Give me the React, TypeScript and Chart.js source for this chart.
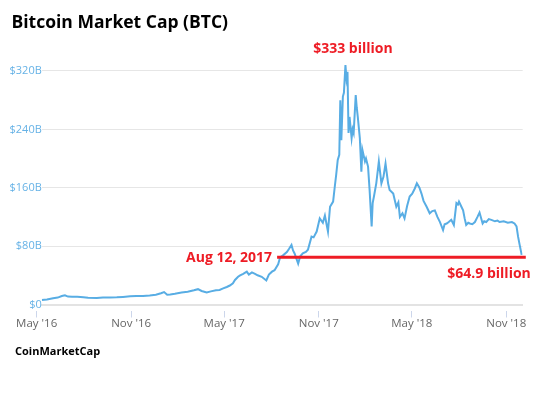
import React, { useEffect, useRef } from "react";
import { Chart, registerables } from "chart.js";

Chart.register(...registerables);

// ---- data (market cap in billions USD) ----
const capDates: string[] = [
  "2016-05-11", "2016-05-21", "2016-06-02", "2016-06-11", "2016-06-19", "2016-06-25",
  "2016-07-01", "2016-07-09", "2016-07-19", "2016-07-31", "2016-08-09", "2016-08-26",
  "2016-09-07", "2016-09-21", "2016-10-04", "2016-10-16", "2016-10-30", "2016-11-11",
  "2016-11-24", "2016-12-07", "2016-12-19", "2016-12-29", "2017-01-04", "2017-01-10",
  "2017-01-16", "2017-01-25", "2017-02-07", "2017-02-19", "2017-03-03", "2017-03-11",
  "2017-03-18", "2017-03-28", "2017-04-05", "2017-04-15", "2017-04-22", "2017-04-29",
  "2017-05-06", "2017-05-12", "2017-05-18", "2017-05-22", "2017-05-28", "2017-06-01",
  "2017-06-07", "2017-06-14", "2017-06-18", "2017-06-24", "2017-06-30", "2017-07-05",
  "2017-07-13", "2017-07-22", "2017-07-27", "2017-08-02", "2017-08-07", "2017-08-14",
  "2017-08-18", "2017-08-23", "2017-08-31", "2017-09-04", "2017-09-09", "2017-09-12",
  "2017-09-15", "2017-09-22", "2017-09-26", "2017-10-01", "2017-10-07", "2017-10-11",
  "2017-10-18", "2017-10-22", "2017-10-28", "2017-11-03", "2017-11-09", "2017-11-13",
  "2017-11-19", "2017-11-23", "2017-11-29", "2017-12-02", "2017-12-05", "2017-12-08",
  "2017-12-11", "2017-12-13", "2017-12-15", "2017-12-18", "2017-12-20", "2017-12-23",
  "2017-12-25", "2017-12-27", "2017-12-29", "2017-12-31", "2018-01-04", "2018-01-06",
  "2018-01-08", "2018-01-12", "2018-01-14", "2018-01-16", "2018-01-20", "2018-01-23",
  "2018-01-25", "2018-01-30", "2018-02-01", "2018-02-05", "2018-02-08", "2018-02-12",
  "2018-02-14", "2018-02-17", "2018-02-21", "2018-02-26", "2018-03-03", "2018-03-07",
  "2018-03-11", "2018-03-16", "2018-03-19", "2018-03-26", "2018-04-01", "2018-04-05",
  "2018-04-08", "2018-04-13", "2018-04-17", "2018-04-22", "2018-04-27", "2018-05-02",
  "2018-05-07", "2018-05-11", "2018-05-16", "2018-05-20", "2018-05-24", "2018-05-30",
  "2018-06-05", "2018-06-10", "2018-06-15", "2018-06-20", "2018-06-25", "2018-07-01",
  "2018-07-04", "2018-07-08", "2018-07-12", "2018-07-17", "2018-07-22", "2018-07-27",
  "2018-07-30", "2018-08-01", "2018-08-05", "2018-08-09", "2018-08-12", "2018-08-15",
  "2018-08-19", "2018-08-22", "2018-08-27", "2018-09-01", "2018-09-06", "2018-09-10",
  "2018-09-16", "2018-09-19", "2018-09-23", "2018-09-28", "2018-10-03", "2018-10-10",
  "2018-10-15", "2018-10-19", "2018-10-27", "2018-11-04", "2018-11-12", "2018-11-17",
  "2018-11-21", "2018-11-24", "2018-11-27", "2018-12-01",
];

const capValues: number[] = [
  6.2, 7.0, 8.5, 9.5, 11.6, 12.6,
  10.8, 10.5, 10.6, 10.0, 9.2, 9.0,
  9.6, 9.7, 9.8, 10.4, 11.3, 11.8,
  11.7, 12.3, 13.3, 15.5, 17.0, 13.5,
  13.8, 14.8, 16.5, 17.5, 19.5, 21.0,
  18.5, 16.5, 18.0, 19.5, 20.0, 22.0,
  24.0, 26.0, 29.0, 33.6, 38.0, 40.0,
  42.0, 45.0, 41.0, 44.0, 42.0, 40.0,
  38.0, 33.0, 41.0, 45.0, 47.0, 55.0,
  65.0, 67.0, 72.0, 76.0, 81.5, 74.0,
  70.0, 56.0, 66.0, 70.0, 72.0, 75.0,
  93.0, 92.0, 100, 118, 112, 122,
  100, 134, 141, 160, 178, 198,
  205, 280, 225, 285, 290, 328,
  310, 319, 235, 257, 228, 240,
  235, 287, 270, 257, 228, 182,
  212, 196, 200, 189, 157, 107,
  139, 150, 166, 196, 166, 175,
  193, 166, 157, 152, 134, 140,
  120, 125, 118, 135, 148, 152,
  159, 166, 160, 152, 142, 134,
  125, 128, 129, 120, 113, 102,
  110, 111, 113, 116, 109, 139,
  137, 141, 135, 129, 118, 109,
  112, 111, 110, 113, 120, 126,
  111, 114, 113, 117, 116, 114,
  115, 113, 114, 112, 113, 111,
  107, 93, 82, 68,
];

const xTickDates: string[] = ["2016-05-01", "2016-11-01", "2017-05-01", "2017-11-01", "2018-05-01", "2018-11-01"];
const xTickLabels: string[] = ["May '16", "Nov '16", "May '17", "Nov '17", "May '18", "Nov '18"];
const yTickValues: number[] = [0, 80, 160, 240, 320];
const yTickLabels: string[] = ["$0", "$80B", "$160B", "$240B", "$320B"];

const refStartDate = "2017-08-12";
const refEndDate = "2018-12-09";
const refValue = 64.9;

const titleText = "Bitcoin Market Cap (BTC)";
const sourceText = "CoinMarketCap";
const peakLabel = "$333 billion";
const refStartLabel = "Aug 12, 2017";
const refEndLabel = "$64.9 billion";

// ---- helpers ----
const DAY0 = Date.UTC(2016, 4, 1);
const day = (s: string) => (Date.parse(s + "T00:00:00Z") - DAY0) / 86400000;

const BLUE = "#58ade4";
const RED = "#ee1c25";
const FONT = "'Open Sans', 'DejaVu Sans', sans-serif";

const annotate = {
  id: "annotate",
  afterDatasetsDraw(chart: any) {
    const { ctx } = chart;
    const x = chart.scales.x;
    const y = chart.scales.y;
    ctx.save();
    ctx.fillStyle = RED;
    ctx.font = `bold 14px ${FONT}`;
    ctx.textBaseline = "alphabetic";

    const maxV = Math.max(...capValues);
    const pi = capValues.indexOf(maxV);
    const px = x.getPixelForValue(day(capDates[pi]));
    const py = y.getPixelForValue(maxV);
    ctx.textAlign = "center";
    ctx.fillText(peakLabel, px + 7.5, py - 12);

    const ly = y.getPixelForValue(refValue);
    ctx.textAlign = "right";
    ctx.fillText(refStartLabel, x.getPixelForValue(day(refStartDate)) - 5, ly + 5);
    ctx.fillText(refEndLabel, x.getPixelForValue(day(refEndDate)) + 5, ly + 20.5);
    ctx.restore();
  },
};

export default function App() {
  const canvasRef = useRef<HTMLCanvasElement | null>(null);

  useEffect(() => {
    if (!canvasRef.current) return;
    const capData = capDates.map((d, i) => ({ x: day(d), y: capValues[i] }));
    const refData = [
      { x: day(refStartDate), y: refValue },
      { x: day(refEndDate), y: refValue },
    ];
    const tickDays = xTickDates.map(day);

    const chart = new Chart(canvasRef.current, {
      type: "line",
      data: {
        datasets: [
          {
            data: capData,
            borderColor: BLUE,
            borderWidth: 2,
            pointRadius: 0,
            tension: 0,
            fill: false,
            order: 2,
          },
          {
            data: refData,
            borderColor: RED,
            borderWidth: 3,
            pointRadius: 0,
            tension: 0,
            fill: false,
            clip: false as any,
            order: 1,
          },
        ],
      },
      options: {
        animation: false,
        responsive: false,
        parsing: false,
        events: [],
        layout: { padding: { left: 0, right: 19.3, top: 56.4, bottom: 49.5 } },
        plugins: {
          legend: { display: false },
          tooltip: { enabled: false },
          title: { display: false },
        },
        scales: {
          x: {
            type: "linear",
            min: day(capDates[0]),
            max: day("2018-12-03"),
            afterBuildTicks: (scale: any) => {
              scale.ticks = tickDays.map((v) => ({ value: v }));
            },
            afterFit: (scale: any) => {
              scale.height = 40;
            },
            grid: {
              drawOnChartArea: false,
              drawTicks: true,
              tickLength: 13,
              tickColor: "#ccd6eb",
              tickWidth: 1,
              tickBorderDash: [8, 5],
              tickBorderDashOffset: 8,
            },
            border: { display: true, color: "#e3e3e3", width: 2 },
            ticks: {
              autoSkip: false,
              maxRotation: 0,
              padding: -1,
              color: "#666666",
              font: { family: FONT, size: 11.5 },
              callback: (_v: any, i: number) => xTickLabels[i],
            },
          },
          y: {
            type: "linear",
            min: 0,
            max: 340,
            afterBuildTicks: (scale: any) => {
              scale.ticks = yTickValues.map((v) => ({ value: v }));
            },
            afterFit: (scale: any) => {
              scale.width = 41.8;
            },
            grid: { color: "#e6e6e6", lineWidth: 1, drawTicks: false },
            border: { display: false },
            ticks: {
              padding: 0,
              color: "#66b2e6",
              font: { family: FONT, size: 11 },
              callback: (_v: any, i: number) => yTickLabels[i],
            },
          },
        },
      },
      plugins: [annotate],
    } as any);

    return () => chart.destroy();
  }, []);

  return (
    <div style={{ position: "absolute", left: 0, top: 0, width: 542, height: 394, background: "#ffffff" }}>
      <canvas ref={canvasRef} width={542} height={394} style={{ position: "absolute", left: 0, top: 0, width: 542, height: 394 }} />
      <div
        style={{
          position: "absolute",
          left: 11.5,
          top: 12.8,
          fontFamily: FONT,
          fontWeight: 700,
          fontSize: 17.5,
          lineHeight: "17.5px",
          color: "#000000",
          whiteSpace: "nowrap",
        }}
      >
        {titleText}
      </div>
      <div
        style={{
          position: "absolute",
          left: 15,
          top: 345.2,
          fontFamily: FONT,
          fontWeight: 700,
          fontSize: 11,
          lineHeight: "11px",
          color: "#000000",
          whiteSpace: "nowrap",
        }}
      >
        {sourceText}
      </div>
    </div>
  );
}
